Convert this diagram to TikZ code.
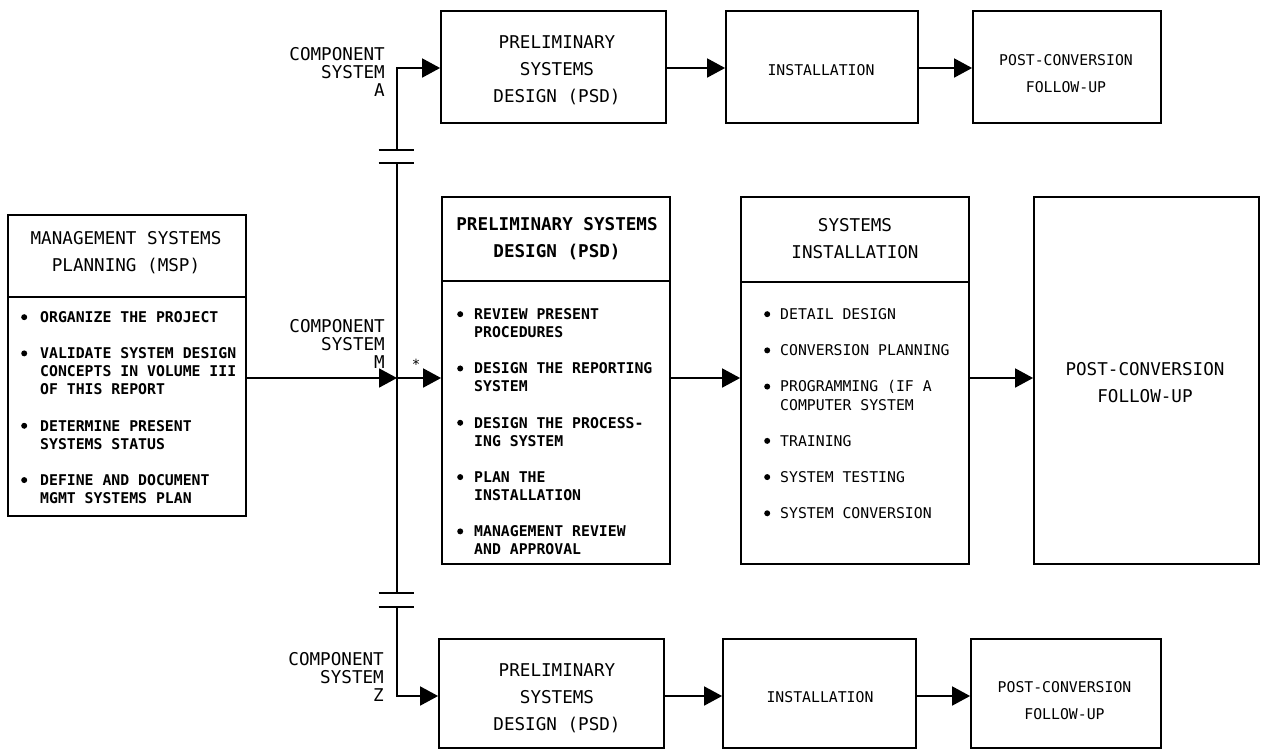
\documentclass[tikz,border=0pt]{standalone}
\usepackage{fontspec}
\newfontfamily\lettering{DejaVu Sans Mono}
\usetikzlibrary{arrows.meta}

% bullet column and hanging indent for the task lists
\newcommand\bul[1]{\makebox[#1][l]{\raisebox{2.4pt}{\tikz\fill (0,0) circle (3pt);}}}
\newcommand\ind[1]{\hspace*{#1}}

\tikzset{
  box/.style={draw, line width=1.8pt, inner sep=0pt, rectangle},
  rule/.style={line width=1.8pt},
  arr/.style={line width=1.8pt, -{Triangle[length=18pt,width=19pt]}},
  title/.style={inner sep=0pt, align=center, font={\lettering\fontsize{17.6pt}{27pt}\selectfont}},
  small/.style={inner sep=0pt, align=center, font={\lettering\fontsize{14.8pt}{27pt}\selectfont}},
  lbl/.style={inner sep=0pt, align=right, anchor=east, font={\lettering\fontsize{17.6pt}{18pt}\selectfont}},
  body/.style={inner sep=0pt, align=left, anchor=north west, font={\lettering\fontsize{14.8pt}{18.1pt}\selectfont}},
  bodybf/.style={body, font={\lettering\bfseries\fontsize{14.8pt}{18.1pt}\selectfont}},
}

\begin{document}
\begin{tikzpicture}[x=1pt, y=-1pt]
\useasboundingbox (0,0) rectangle (1261,750);

% ---- boxes ----
\node[box, minimum width=238pt, minimum height=301pt] (msp)   at (127,365.5) {};
\node[box, minimum width=228pt, minimum height=367pt] (psdM)  at (556,380.5) {};
\node[box, minimum width=228pt, minimum height=367pt] (si)    at (855,380.5) {};
\node[box, minimum width=225pt, minimum height=367pt] (postM) at (1146.5,380.5) {};

\node[box, minimum width=225pt, minimum height=112pt] (psdA)  at (553.5,67) {};
\node[box, minimum width=192pt, minimum height=112pt] (instA) at (822,67) {};
\node[box, minimum width=188pt, minimum height=112pt] (postA) at (1067,67) {};

\node[box, minimum width=225pt, minimum height=109pt] (psdZ)  at (551.5,693.5) {};
\node[box, minimum width=193pt, minimum height=109pt] (instZ) at (819.5,693.5) {};
\node[box, minimum width=190pt, minimum height=109pt] (postZ) at (1066,693.5) {};

% header dividers
\coordinate (mspdiv) at (0,297);
\coordinate (psddiv) at (0,281);
\coordinate (sidiv)  at (0,282);
\draw[rule] (msp.west |- mspdiv) -- (msp.east |- mspdiv);
\draw[rule] (psdM.west |- psddiv) -- (psdM.east |- psddiv);
\draw[rule] (si.west |- sidiv) -- (si.east |- sidiv);

% ---- texts ----
\node[title] (mspH) at (126,253) {MANAGEMENT SYSTEMS\\PLANNING (MSP)};
\node[title, font={\lettering\bfseries\fontsize{17.6pt}{27pt}\selectfont}] (psdMH) at (557,238.5) {PRELIMINARY SYSTEMS\\DESIGN (PSD)};
\node[title] (siH) at (855,238.5) {SYSTEMS\\INSTALLATION};
\node[title] (postMt) at (1145,382.5) {POST-CONVERSION\\FOLLOW-UP};

\node[title] (psdAt) at (557,70) {PRELIMINARY\\SYSTEMS\\DESIGN (PSD)};
\node[small] (instAt) at (821,70) {INSTALLATION};
\node[small] (postAt) at (1066,73.5) {POST-CONVERSION\\FOLLOW-UP};

\node[title] (psdZt) at (557,698.5) {PRELIMINARY\\SYSTEMS\\DESIGN (PSD)};
\node[small] (instZt) at (820,697) {INSTALLATION};
\node[small] (postZt) at (1064.5,700.5) {POST-CONVERSION\\FOLLOW-UP};

\node[bodybf] (mspB) at (21,309.7) {\strut\bul{19pt}ORGANIZE THE PROJECT\\[18.1pt]
\bul{19pt}VALIDATE SYSTEM DESIGN\\\ind{19pt}CONCEPTS IN VOLUME III\\\ind{19pt}OF THIS REPORT\\[18.1pt]
\bul{19pt}DETERMINE PRESENT\\\ind{19pt}SYSTEMS STATUS\\[18.1pt]
\bul{19pt}DEFINE AND DOCUMENT\\\ind{19pt}MGMT SYSTEMS PLAN};

\node[bodybf] (psdMB) at (457,306.7) {\strut\bul{17pt}REVIEW PRESENT\\\ind{17pt}PROCEDURES\\[18.1pt]
\bul{17pt}DESIGN THE REPORTING\\\ind{17pt}SYSTEM\\[18.1pt]
\bul{17pt}DESIGN THE PROCESS-\\\ind{17pt}ING SYSTEM\\[18.1pt]
\bul{17pt}PLAN THE\\\ind{17pt}INSTALLATION\\[18.1pt]
\bul{17pt}MANAGEMENT REVIEW\\\ind{17pt}AND APPROVAL};

\node[body] (siB) at (764,306.7) {\strut\bul{16pt}DETAIL DESIGN\\[18.1pt]
\bul{16pt}CONVERSION PLANNING\\[18.1pt]
\bul{16pt}PROGRAMMING (IF A\\\ind{16pt}COMPUTER SYSTEM\\[18.1pt]
\bul{16pt}TRAINING\\[18.1pt]
\bul{16pt}SYSTEM TESTING\\[18.1pt]
\bul{16pt}SYSTEM CONVERSION};

\node[lbl] (labA) at (385,72) {COMPONENT\\SYSTEM\\A};
\node[lbl] (labM) at (385,344) {COMPONENT\\SYSTEM\\M};
\node[lbl] (labZ) at (384,677) {COMPONENT\\SYSTEM\\Z};
\node[inner sep=0pt, font={\lettering\fontsize{14pt}{14pt}\selectfont}] (star) at (416,364) {*};

% ---- distribution bus ----
\coordinate (busA)  at (397,68);
\coordinate (gap1a) at (397,150);
\coordinate (gap1b) at (397,163);
\coordinate (busM)  at (397,378);
\coordinate (gap2a) at (397,593);
\coordinate (gap2b) at (397,607);
\coordinate (busZ)  at (397,696);

\draw[arr] (gap1a) -- (busA) -- (psdA.west |- busA);
\draw[rule] (gap1b) -- (gap2a);
\draw[arr] (gap2b) -- (busZ) -- (psdZ.west |- busZ);
\foreach \g in {gap1a,gap1b,gap2a,gap2b}
  \draw[rule] ([xshift=-18.5pt]\g) -- ([xshift=16.5pt]\g);

% ---- flow arrows ----
\draw[arr] (msp.east |- busM) -- (busM);
\draw[arr] (busM) -- (psdM.west |- busM);
\draw[arr] (psdM.east |- busM) -- (si.west |- busM);
\draw[arr] (si.east |- busM) -- (postM.west |- busM);

\draw[arr] (psdA.east |- busA) -- (instA.west |- busA);
\draw[arr] (instA.east |- busA) -- (postA.west |- busA);

\draw[arr] (psdZ.east |- busZ) -- (instZ.west |- busZ);
\draw[arr] (instZ.east |- busZ) -- (postZ.west |- busZ);
\end{tikzpicture}
\end{document}
